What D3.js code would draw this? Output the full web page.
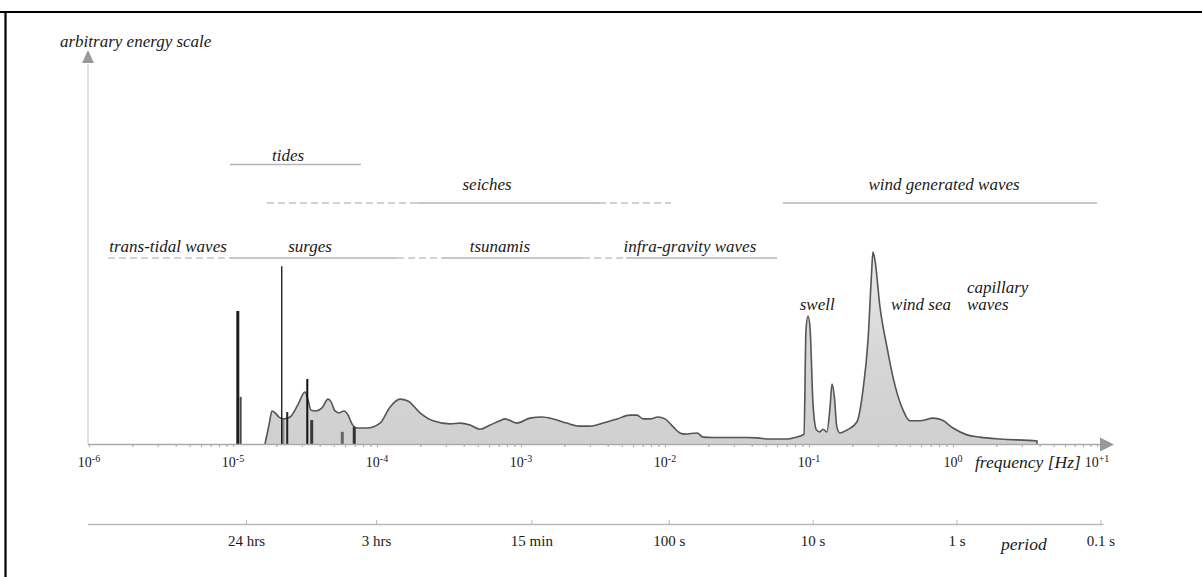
<!DOCTYPE html>
<html><head><meta charset="utf-8">
<script src="https://cdn.jsdelivr.net/npm/d3@7"></script>
<style>
body{margin:0;background:#fff}
svg{display:block;font-family:"Liberation Serif","Times New Roman",serif}
</style></head><body>
<svg id="chart" width="1202" height="577"></svg>
<script>
// Ocean wave energy spectrum (schematic), frequency in Hz, energy in arbitrary units

// Continuous spectrum: frequency [Hz] and relative energy
const specFreq = [
  1.667e-5, 1.778e-5, 1.866e-5, 1.959e-5, 2.085e-5, 2.26e-5, 2.49e-5, 2.82e-5, 3.16e-5, 3.32e-5,
  3.48e-5, 3.77e-5, 4.15e-5, 4.57e-5, 4.80e-5, 5.11e-5, 5.45e-5, 5.90e-5, 6.30e-5, 6.70e-5,
  7.26e-5, 8.53e-5, 1.05e-4, 1.23e-4, 1.445e-4, 1.64e-4, 1.99e-4, 2.45e-4, 3.21e-4, 3.77e-4,
  4.43e-4, 5.19e-4, 6.10e-4, 7.14e-4, 7.74e-4, 8.26e-4, 9.38e-4, 1.155e-3, 1.40e-3, 1.67e-3,
  2.08e-3, 2.57e-3, 3.01e-3, 3.71e-3, 4.65e-3, 5.71e-3, 6.40e-3, 7.03e-3, 7.87e-3, 8.93e-3,
  1.0e-2, 1.14e-2, 1.27e-2, 1.38e-2, 1.67e-2, 1.84e-2, 2.15e-2, 3.71e-2, 4.36e-2, 5.36e-2,
  7.03e-2, 8.00e-2, 8.66e-2, 9.23e-2, 9.53e-2, 9.84e-2, 0.1016, 0.1067, 0.1127, 0.119,
  0.125, 0.133, 0.140, 0.1445, 0.150, 0.156, 0.164, 0.184, 0.215, 0.237,
  0.257, 0.272, 0.278, 0.287, 0.311, 0.348, 0.383, 0.450, 0.502, 0.590,
  0.726, 0.840, 1.0, 1.25, 1.54, 2.12, 3.83, 3.831
];
const specEnergy = [
  0, 5.0, 8.7, 8.2, 7.1, 6.6, 7.1, 10.3, 13.7, 11.6,
  8.9, 8.7, 9.5, 11.8, 11.1, 8.7, 8.2, 8.7, 7.6, 5.3,
  4.2, 4.2, 5.5, 9.7, 11.8, 11.3, 8.2, 6.1, 5.3, 5.5,
  5.0, 3.9, 5.0, 6.1, 6.6, 6.3, 5.5, 6.8, 7.1, 6.6,
  5.5, 4.7, 4.7, 5.5, 6.6, 7.6, 7.6, 6.6, 6.6, 7.1,
  6.6, 4.5, 2.9, 2.6, 2.9, 1.8, 1.7, 1.7, 1.6, 1.3,
  1.3, 1.7, 2.1, 2.6, 30.0, 33.7, 30.8, 10.3, 3.7, 3.2,
  3.9, 3.2, 9.7, 15.8, 12.4, 4.5, 2.9, 3.7, 5.8, 14.2,
  27.4, 45.0, 50.5, 48.4, 36.1, 25.5, 17.6, 8.9, 6.1, 6.1,
  6.8, 6.3, 4.2, 2.4, 1.8, 1.3, 0.8, 0
];

// Tidal line components: frequency [Hz] and relative energy
const tideFreq   = [2.22e-5, 1.08e-5, 1.13e-5, 2.18e-5, 2.38e-5, 3.28e-5, 3.52e-5, 5.74e-5, 6.95e-5];
const tideEnergy = [6.3, 35.0, 12.4, 46.8, 8.4, 17.1, 6.3, 3.2, 4.5];

// Frequency ranges of the wave classes (row 0 = top)
const rangeRow    = [0, 1, 1, 1, 1, 2, 2, 2, 2, 2, 2];
const rangeFrom   = [9.53e-6, 1.72e-5, 1.90e-4, 3.48e-3, 6.59e-2, 1.355e-6, 9.53e-6, 1.38e-4, 2.83e-4, 2.70e-3, 5.36e-3];
const rangeTo     = [7.74e-5, 1.90e-4, 3.48e-3, 1.10e-2, 1e1, 9.53e-6, 1.38e-4, 2.83e-4, 2.70e-3, 5.36e-3, 6.00e-2];
const rangeDashed = [false, true, false, true, false, true, false, true, false, true, false];

const classNames = ["tides", "seiches", "wind generated waves", "trans-tidal waves", "surges", "tsunamis", "infra-gravity waves"];
const classFreq  = [2.41e-5, 5.81e-4, 0.867, 3.54e-6, 3.43e-5, 7.14e-4, 1.49e-2];
const classRow   = [0, 1, 1, 2, 2, 2, 2];

// Names of spectral features
const featureNames = ["swell", "wind sea"];
const featureFreq  = [0.114, 0.600];
const capillaryLines = ["capillary", "waves"];
const capillaryFreq = 1.25;

// Axis ticks
const decades = [1e-6, 1e-5, 1e-4, 1e-3, 1e-2, 1e-1, 1e0, 1e1];
const decadeExponents = ["-6", "-5", "-4", "-3", "-2", "-1", "0", "+1"];
const periodValues = [86400, 10800, 900, 100, 10, 1, 0.1];
const periodLabels = ["24 hrs", "3 hrs", "15 min", "100 s", "10 s", "1 s", "0.1 s"];

const svg = d3.select("#chart");
const x = d3.scaleLog().domain([1e-6, 1e1]).range([89, 1097]);
const y = d3.scaleLinear().domain([0, 100]).range([444, 64]);
const xp = d3.scaleLog().domain([1e6, 1e-1]).range([93, 1100.5]);

const ink = "#1a1a1a";
const labelSize = 17;

// page frame
svg.append("line").attr("x1", 0).attr("x2", 1202).attr("y1", 12).attr("y2", 12)
  .attr("stroke", "#000").attr("stroke-width", 2.2);
svg.append("line").attr("x1", 5.5).attr("x2", 5.5).attr("y1", 11).attr("y2", 577)
  .attr("stroke", "#000").attr("stroke-width", 2.2);

// fill gradient for the spectrum
const defs = svg.append("defs");
const grad = defs.append("linearGradient").attr("id", "specFill")
  .attr("gradientUnits", "userSpaceOnUse")
  .attr("x1", 0).attr("x2", 0).attr("y1", y(52)).attr("y2", y(0));
grad.append("stop").attr("offset", 0).attr("stop-color", "#ececec");
grad.append("stop").attr("offset", 0.55).attr("stop-color", "#d6d6d6");
grad.append("stop").attr("offset", 1).attr("stop-color", "#d0d0d0");

// energy axis
svg.append("line").attr("x1", x(1e-6) - 1).attr("x2", x(1e-6) - 1)
  .attr("y1", y(0)).attr("y2", y(100))
  .attr("stroke", "#cfcfcf").attr("stroke-width", 1.2);
svg.append("path")
  .attr("d", d3.line()([[x(1e-6) - 7, y(100) - 1], [x(1e-6) + 5, y(100) - 1], [x(1e-6) - 1, y(100) - 14]]) + "Z")
  .attr("fill", "#999");
svg.append("text").attr("x", 60).attr("y", 47)
  .attr("font-style", "italic").attr("font-size", labelSize).attr("fill", ink)
  .text("arbitrary energy scale");

// spectrum
const specData = specFreq.map((f, i) => [f, specEnergy[i]]);
svg.append("path").datum(specData)
  .attr("d", d3.area().x(d => x(d[0])).y0(y(0)).y1(d => y(d[1])).curve(d3.curveMonotoneX))
  .attr("fill", "url(#specFill)");
svg.append("path").datum(specData)
  .attr("d", d3.line().x(d => x(d[0])).y(d => y(d[1])).curve(d3.curveMonotoneX))
  .attr("fill", "none").attr("stroke", "#555").attr("stroke-width", 1.6);

// tidal lines
const tideWidth = [3, 3, 2, 1.3, 2, 2, 3, 3, 3];
const tideColor = ["#8a8a8a", "#1c1c1c", "#4a4a4a", "#111", "#222", "#111", "#3a3a3a", "#666", "#333"];
svg.append("g").selectAll("line").data(tideFreq).join("line")
  .attr("x1", d => x(d)).attr("x2", d => x(d))
  .attr("y1", y(0)).attr("y2", (d, i) => y(tideEnergy[i]))
  .attr("stroke", (d, i) => tideColor[i])
  .attr("stroke-width", (d, i) => tideWidth[i]);

// frequency axis
const minorTicks = [];
decades.slice(0, -1).forEach(d => { for (let k = 1; k < 10; k++) minorTicks.push(k * d); });
minorTicks.push(1e1);
const fAxis = svg.append("g").attr("transform", `translate(0,${y(0)})`)
  .call(d3.axisBottom(x).tickValues(minorTicks).tickSize(3).tickFormat(""));
fAxis.select(".domain").remove();
fAxis.selectAll(".tick line").attr("stroke", "#a5a5a5");
svg.append("line").attr("x1", x(1e-6) - 1).attr("x2", x(1e1) + 6)
  .attr("y1", y(0) + 0.5).attr("y2", y(0) + 0.5)
  .attr("stroke", "#aaa").attr("stroke-width", 1.5);
svg.append("path")
  .attr("d", d3.line()([[x(1e1) + 3, y(0) - 6.5], [x(1e1) + 3, y(0) + 7.5], [x(1e1) + 17, y(0) + 0.5]]) + "Z")
  .attr("fill", "#999");

const decLabels = svg.append("g").selectAll("text").data(decades).join("text")
  .attr("x", d => x(d)).attr("y", 467)
  .attr("text-anchor", "middle").attr("font-size", 14).attr("fill", ink);
decLabels.append("tspan").text("10");
decLabels.append("tspan").attr("dy", -5).attr("font-size", 10).text((d, i) => decadeExponents[i]);

svg.append("text").attr("x", 975).attr("y", 468)
  .attr("font-style", "italic").attr("font-size", 17.5).attr("fill", ink)
  .text("frequency [Hz]");

// period axis
const pAxis = svg.append("g").attr("transform", "translate(0,524)")
  .call(d3.axisBottom(xp).tickValues(periodValues)
    .tickFormat((d, i) => periodLabels[i]).tickSizeInner(-4).tickSizeOuter(0).tickPadding(11));
pAxis.attr("font-family", null).attr("font-size", null);
pAxis.select(".domain").remove();
pAxis.selectAll(".tick line").attr("stroke", "#bbb");
pAxis.selectAll(".tick text").attr("font-size", 15).attr("fill", ink);
pAxis.insert("line", ":first-child").attr("x1", x(1e-6) - 1).attr("x2", xp(0.1) + 3)
  .attr("y1", 0.5).attr("y2", 0.5).attr("stroke", "#bbb").attr("stroke-width", 1.5);
svg.append("text").attr("x", 1001).attr("y", 550)
  .attr("font-style", "italic").attr("font-size", 17.5).attr("fill", ink)
  .text("period");

// wave-class ranges
const rowLineY = [164.5, 203, 258];
const rowLabelY = [161, 190, 252];
svg.append("g").selectAll("line").data(rangeFrom).join("line")
  .attr("x1", d => x(d)).attr("x2", (d, i) => x(rangeTo[i]))
  .attr("y1", (d, i) => rowLineY[rangeRow[i]]).attr("y2", (d, i) => rowLineY[rangeRow[i]])
  .attr("stroke", (d, i) => rangeDashed[i] ? "#c4c4c4" : "#b4b4b4")
  .attr("stroke-width", 1.6)
  .attr("stroke-dasharray", (d, i) => rangeDashed[i] ? "7,4" : null);
svg.append("g").selectAll("text").data(classNames).join("text")
  .attr("x", (d, i) => x(classFreq[i])).attr("y", (d, i) => rowLabelY[classRow[i]])
  .attr("text-anchor", "middle").attr("font-style", "italic").attr("font-size", labelSize).attr("fill", ink)
  .text(d => d);

// spectral feature names
svg.append("g").selectAll("text").data(featureNames).join("text")
  .attr("x", (d, i) => x(featureFreq[i])).attr("y", 310)
  .attr("text-anchor", "middle").attr("font-style", "italic").attr("font-size", labelSize).attr("fill", ink)
  .text(d => d);
svg.append("g").selectAll("text").data(capillaryLines).join("text")
  .attr("x", x(capillaryFreq)).attr("y", (d, i) => 293 + i * 17)
  .attr("font-style", "italic").attr("font-size", labelSize).attr("fill", ink)
  .text(d => d);
</script></body></html>
